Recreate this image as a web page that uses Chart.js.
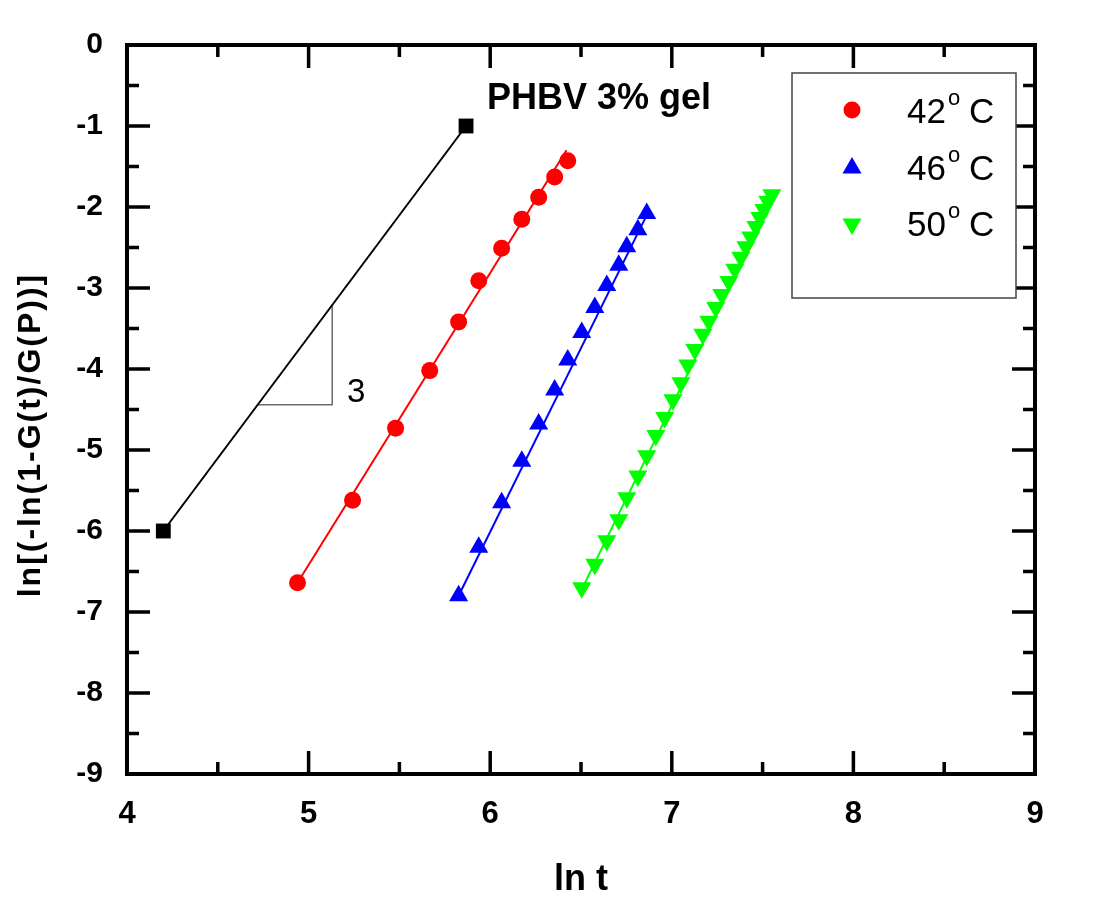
<!DOCTYPE html>
<html lang="en">
<head>
  <meta charset="UTF-8" />
  <title>PHBV 3% gel - Avrami plot</title>
  <script src="https://cdn.jsdelivr.net/npm/chart.js"></script>
  <style>
    body {
      margin: 0;
      background: #ffffff;
    }
    #wrap {
      width: 1094px;
      height: 900px;
    }
  </style>
</head>
<body>
  <div id="wrap">
    <canvas id="avrami" width="1094" height="900"></canvas>
  </div>

  <script>
    // ln t values and ln[-ln(1-G(t)/G(P))] values
    const x42 = [4.939, 5.242, 5.479, 5.667, 5.826, 5.937, 6.063, 6.174, 6.267, 6.355, 6.427];
    const y42 = [-6.64, -5.62, -4.73, -4.02, -3.42, -2.91, -2.51, -2.15, -1.88, -1.63, -1.43];

    const x46 = [5.826, 5.937, 6.063, 6.174, 6.267, 6.355, 6.427, 6.504, 6.576, 6.642, 6.708, 6.752, 6.813, 6.862];
    const y46 = [-6.80, -6.20, -5.65, -5.14, -4.68, -4.26, -3.89, -3.55, -3.24, -2.97, -2.72, -2.49, -2.28, -2.08];

    const x50 = [6.504, 6.576, 6.642, 6.708, 6.752, 6.813, 6.862, 6.912, 6.961, 7.006, 7.050, 7.088, 7.127, 7.171,
                 7.204, 7.242, 7.275, 7.314, 7.347, 7.380, 7.408, 7.435, 7.463, 7.485, 7.507, 7.529, 7.551];
    const y50 = [-6.70, -6.41, -6.12, -5.86, -5.59, -5.32, -5.07, -4.82, -4.60, -4.38, -4.17, -3.95, -3.76, -3.57,
                 -3.41, -3.24, -3.08, -2.92, -2.77, -2.62, -2.49, -2.37, -2.24, -2.13, -2.03, -1.93, -1.85];

    // linear fits (end points)
    const fit42x = [4.939, 6.42];
    const fit42y = [-6.64, -1.30];
    const fit46x = [5.826, 6.862];
    const fit46y = [-6.80, -2.10];
    const fit50x = [6.504, 7.57];
    const fit50y = [-6.72, -1.85];

    // slope-3 reference line and its little triangle
    const refX = [4.2, 5.867];
    const refY = [-6, -1];
    const slopeX = [4.72, 5.13, 5.13];
    const slopeY = [-4.44, -4.44, -3.21];

    const xTicks = [4, 5, 6, 7, 8, 9];
    const yTicks = [0, -1, -2, -3, -4, -5, -6, -7, -8, -9];

    const seriesNames = ["42", "46", "50"];
    const seriesColors = ["#ff0000", "#0000ff", "#00ff00"];

    const pts = (xs, ys) => xs.map((x, i) => ({ x: x, y: ys[i] }));

    const FONT = "'Liberation Sans', Arial, sans-serif";

    // frame, inward ticks, legend box and text labels
    const decorations = {
      id: "decorations",
      afterDraw(chart) {
        const ctx = chart.ctx;
        const a = chart.chartArea;
        const xs = chart.scales.x;
        const ys = chart.scales.y;

        ctx.save();
        ctx.strokeStyle = "#000";
        ctx.lineCap = "butt";

        // ticks (major every 1, minor every 0.5), on all four sides, pointing in
        ctx.lineWidth = 3.5;
        for (let v = 4; v <= 9.001; v += 0.5) {
          const px = xs.getPixelForValue(v);
          const len = Number.isInteger(v) ? 23 : 12;
          ctx.beginPath();
          ctx.moveTo(px, a.bottom);
          ctx.lineTo(px, a.bottom - len);
          ctx.moveTo(px, a.top);
          ctx.lineTo(px, a.top + len);
          ctx.stroke();
        }
        for (let v = -9; v <= 0.001; v += 0.5) {
          const py = ys.getPixelForValue(v);
          const len = Number.isInteger(v) ? 23 : 12;
          ctx.beginPath();
          ctx.moveTo(a.left, py);
          ctx.lineTo(a.left + len, py);
          ctx.moveTo(a.right, py);
          ctx.lineTo(a.right - len, py);
          ctx.stroke();
        }

        // legend box
        ctx.fillStyle = "#fff";
        ctx.fillRect(792, 73, 224, 225);
        ctx.lineWidth = 1.5;
        ctx.strokeStyle = "#444";
        ctx.strokeRect(792, 73, 224, 225);

        const styles = [
          { pointStyle: "circle", radius: 8.5, rotation: 0, borderWidth: 0 },
          { pointStyle: "triangle", radius: 11, rotation: 0, borderWidth: 0 },
          { pointStyle: "triangle", radius: 11, rotation: 180, borderWidth: 0 }
        ];
        const rowY = [110, 168, 224];
        const baseY = [123, 180, 236];
        seriesNames.forEach((name, i) => {
          ctx.fillStyle = seriesColors[i];
          ctx.strokeStyle = seriesColors[i];
          Chart.helpers.drawPoint(ctx, styles[i], 852, rowY[i]);

          ctx.fillStyle = "#000";
          ctx.textAlign = "left";
          ctx.textBaseline = "alphabetic";
          ctx.font = "35px " + FONT;
          ctx.fillText(name, 907, baseY[i]);
          const w = ctx.measureText(name).width;
          ctx.font = "22px " + FONT;
          ctx.fillText("o", 907 + w + 2, baseY[i] - 18);
          ctx.font = "35px " + FONT;
          ctx.fillText("C", 969, baseY[i]);
        });

        // sample label and slope label
        ctx.fillStyle = "#000";
        ctx.font = "bold 36px " + FONT;
        ctx.fillText("PHBV 3% gel", 487, 109);
        ctx.font = "33px " + FONT;
        ctx.fillText("3", 347, 402);

        // axis titles
        ctx.font = "bold 36px " + FONT;
        ctx.textAlign = "center";
        ctx.textBaseline = "middle";
        ctx.fillText("ln t", (a.left + a.right) / 2, 880);

        ctx.translate(31, 435);
        ctx.rotate(-Math.PI / 2);
        ctx.font = "bold 32px " + FONT;
        ctx.letterSpacing = "2px";
        ctx.fillText("ln[(-ln(1-G(t)/G(P))]", 0, 0);
        ctx.restore();

        // plot frame
        ctx.save();
        ctx.lineWidth = 4;
        ctx.strokeStyle = "#000";
        ctx.strokeRect(a.left, a.top, a.right - a.left, a.bottom - a.top);
        ctx.restore();
      }
    };

    const ctx = document.getElementById("avrami").getContext("2d");

    new Chart(ctx, {
      type: "scatter",
      data: {
        datasets: [
          {
            label: "42 C",
            data: pts(x42, y42),
            pointStyle: "circle",
            pointRadius: 8.5,
            pointBorderWidth: 0,
            backgroundColor: seriesColors[0],
            borderColor: seriesColors[0],
            showLine: false,
            order: 1
          },
          {
            label: "46 C",
            data: pts(x46, y46),
            pointStyle: "triangle",
            pointRadius: 11,
            pointBorderWidth: 0,
            backgroundColor: seriesColors[1],
            borderColor: seriesColors[1],
            showLine: false,
            order: 1
          },
          {
            label: "50 C",
            data: pts(x50, y50),
            pointStyle: "triangle",
            pointRotation: 180,
            pointRadius: 11,
            pointBorderWidth: 0,
            backgroundColor: seriesColors[2],
            borderColor: seriesColors[2],
            showLine: false,
            order: 1
          },
          {
            label: "reference",
            data: pts(refX, refY),
            pointStyle: "rect",
            pointRadius: 10.5,
            pointBorderWidth: 0,
            backgroundColor: "#000",
            borderColor: "#000",
            borderWidth: 2,
            showLine: true,
            order: 2
          },
          { label: "fit 42", data: pts(fit42x, fit42y), showLine: true, pointRadius: 0, borderColor: seriesColors[0], borderWidth: 2, order: 3 },
          { label: "fit 46", data: pts(fit46x, fit46y), showLine: true, pointRadius: 0, borderColor: seriesColors[1], borderWidth: 2, order: 3 },
          { label: "fit 50", data: pts(fit50x, fit50y), showLine: true, pointRadius: 0, borderColor: seriesColors[2], borderWidth: 2, order: 3 },
          { label: "slope", data: pts(slopeX, slopeY), showLine: true, pointRadius: 0, borderColor: "#6b6b6b", borderWidth: 1.5, order: 3 }
        ]
      },
      options: {
        responsive: false,
        animation: false,
        devicePixelRatio: 1,
        layout: {
          padding: { top: 45, right: 59, left: 0, bottom: 0 }
        },
        plugins: {
          legend: { display: false },
          tooltip: { enabled: false }
        },
        scales: {
          x: {
            type: "linear",
            min: 4,
            max: 9,
            afterFit: (s) => { s.height = 126; },
            afterBuildTicks: (s) => { s.ticks = xTicks.map((v) => ({ value: v })); },
            grid: { display: false, drawTicks: false },
            border: { display: false },
            ticks: {
              padding: 22,
              color: "#000",
              font: { family: FONT, size: 31, weight: "bold" }
            }
          },
          y: {
            type: "linear",
            min: -9,
            max: 0,
            afterFit: (s) => { s.width = 127; },
            afterBuildTicks: (s) => { s.ticks = yTicks.map((v) => ({ value: v })); },
            grid: { display: false, drawTicks: false },
            border: { display: false },
            ticks: {
              padding: 24,
              color: "#000",
              font: { family: FONT, size: 30, weight: "bold" }
            }
          }
        }
      },
      plugins: [decorations]
    });
  </script>
</body>
</html>
